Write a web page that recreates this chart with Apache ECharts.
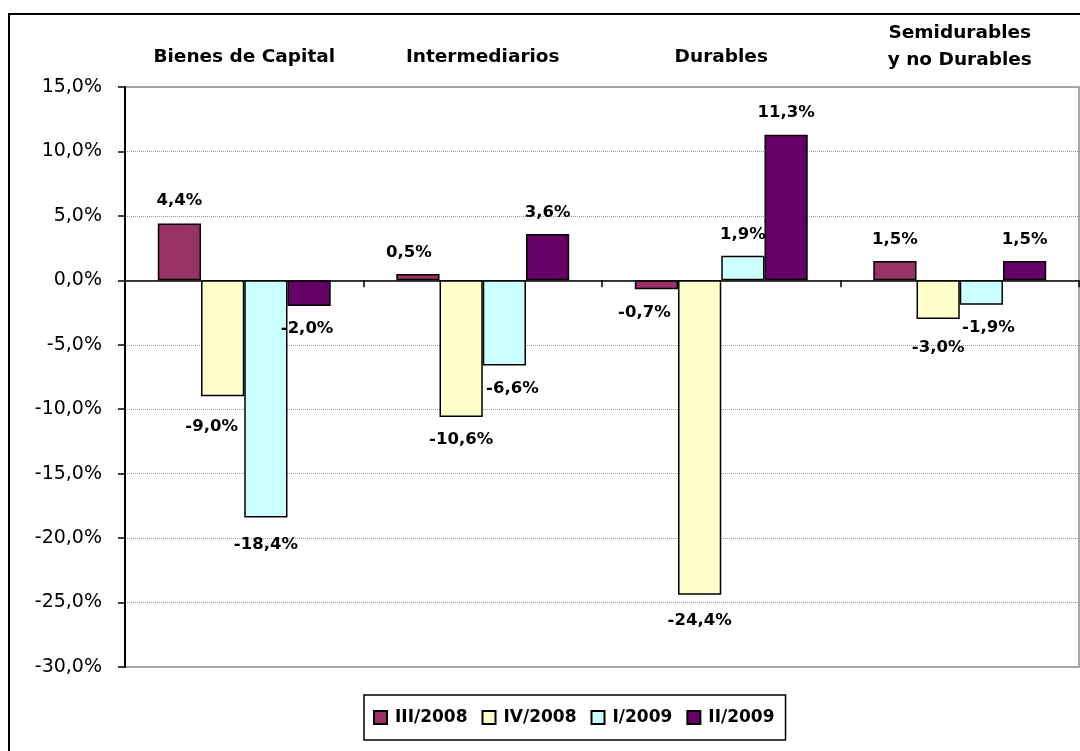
<!DOCTYPE html>
<html>
<head>
<meta charset="utf-8">
<script src="https://cdn.jsdelivr.net/npm/echarts@6/dist/echarts.min.js"></script>
<style>
  html, body { margin: 0; padding: 0; background: #fff; }
  #chart { width: 1080px; height: 751px; }
</style>
</head>
<body>
<div id="chart"></div>
<script>
// Sector groups along the category axis
const categories = ['Bienes de Capital', 'Intermediarios', 'Durables', 'Semidurables\ny no Durables'];

// Quarterly variation (%) per sector
const q3_2008 = [4.4, 0.5, -0.7, 1.5];
const q4_2008 = [-9.0, -10.6, -24.4, -3.0];
const q1_2009 = [-18.4, -6.6, 1.9, -1.9];
const q2_2009 = [-2.0, 3.6, 11.3, 1.5];

const seriesNames = ['III/2008', 'IV/2008', 'I/2009', 'II/2009'];

// Y axis range and step (percent)
const yMin = -30, yMax = 15, yStep = 5;

const FONT = 'DejaVu Sans, Arial, sans-serif';
const colors = ['#993366', '#FFFFCC', '#CCFFFF', '#660066'];

// Hand placement of some value labels, keyed "series-category": [dx, dy]
const labelNudge = {
  '0-0': [0, -1], '1-0': [-11, 9], '2-0': [0, 6], '3-0': [-2, 1],
  '0-1': [-9, 0], '1-1': [0, 1], '2-1': [8, 2],
  '0-2': [-12, 2], '1-2': [0, 4],
  '1-3': [0, 7], '2-3': [7, 1]
};

const fmtPct = v => v.toFixed(1).replace('.', ',') + '%';

function buildSeries(name, values, idx) {
  return {
    name: name,
    type: 'bar',
    xAxisIndex: 0,
    barGap: '0%',
    barCategoryGap: '27.5%',
    itemStyle: { color: colors[idx], borderColor: '#000', borderWidth: 1.5 },
    label: {
      show: true,
      distance: 13,
      color: '#000',
      fontFamily: FONT,
      fontWeight: 'bold',
      fontSize: 16.5,
      formatter: p => fmtPct(p.value)
    },
    data: values.map((v, i) => ({
      value: v,
      label: {
        position: v >= 0 ? 'top' : 'bottom',
        offset: labelNudge[idx + '-' + i] || [0, 0]
      }
    }))
  };
}

const catFont = { fontFamily: FONT, fontWeight: 'bold', fontSize: 18.5, color: '#000', lineHeight: 27 };

const chart = echarts.init(document.getElementById('chart'));
chart.setOption({
  backgroundColor: '#fff',
  animation: false,
  textStyle: { fontFamily: FONT },
  graphic: [{
    type: 'rect',
    shape: { x: 9, y: 14, width: 1200, height: 900 },
    style: { fill: 'none', stroke: '#000', lineWidth: 2 },
    z: -1
  }],
  grid: {
    left: 125, right: 1, top: 87, bottom: 84,
    show: true, borderColor: '#8c8c8c', borderWidth: 1.5, backgroundColor: 'transparent'
  },
  legend: {
    data: seriesNames,
    left: 364, top: 695,
    padding: [14, 11, 14, 9],
    borderColor: '#000', borderWidth: 1.5,
    itemGap: 14,
    itemWidth: 13, itemHeight: 13,
    icon: 'rect',
    textStyle: { fontFamily: FONT, fontWeight: 'bold', fontSize: 17, color: '#000', padding: [0, 0, 0, 3] }
  },
  xAxis: [{
    type: 'category',
    data: categories,
    position: 'bottom',
    axisLine: { onZero: true, lineStyle: { color: '#000', width: 1.5 } },
    axisTick: { show: true, length: 7, lineStyle: { color: '#000', width: 1.5 } },
    axisLabel: { show: false },
    splitLine: { show: false }
  }, {
    type: 'category',
    data: categories,
    position: 'top',
    axisLine: { show: false, onZero: false },
    axisTick: { show: false },
    axisLabel: Object.assign({
      interval: 0,
      hideOverlap: false,
      margin: 13,
      formatter: v => v.indexOf('\n') >= 0 ? v : '{s|' + v + '}',
      rich: { s: Object.assign({ padding: [0, 0, 7, 0] }, catFont) }
    }, catFont),
    splitLine: { show: false }
  }],
  yAxis: {
    type: 'value',
    min: yMin, max: yMax, interval: yStep,
    axisLine: { show: true, lineStyle: { color: '#000', width: 2 } },
    axisTick: { show: true, length: 7, lineStyle: { color: '#000', width: 1.5 } },
    axisLabel: {
      color: '#000', fontFamily: FONT, fontSize: 19, margin: 23,
      formatter: v => fmtPct(v)
    },
    splitLine: { show: true, lineStyle: { color: '#999', type: 'dotted', width: 1 } }
  },
  series: [
    buildSeries(seriesNames[0], q3_2008, 0),
    buildSeries(seriesNames[1], q4_2008, 1),
    buildSeries(seriesNames[2], q1_2009, 2),
    buildSeries(seriesNames[3], q2_2009, 3)
  ]
});
</script>
</body>
</html>
